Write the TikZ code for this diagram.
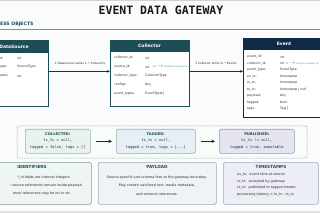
\documentclass[tikz,border=0pt]{standalone}
\usepackage{fontspec}
\setmainfont{DejaVu Sans}
\newfontfamily\monof{DejaVu Sans Mono}
\usetikzlibrary{arrows.meta}
\definecolor{hdr}{HTML}{1E4D57}
\definecolor{navy}{HTML}{0F2B46}
\definecolor{fieldtxt}{HTML}{2B2B2B}
\definecolor{fkc}{HTML}{3D8B94}
\definecolor{greenfill}{HTML}{E7F3EC}
\definecolor{bluefill}{HTML}{E6EEF6}
\definecolor{lavfill}{HTML}{E4E5F1}
\definecolor{idfill}{HTML}{EEF5F2}
\definecolor{payfill}{HTML}{EFF3F8}
\definecolor{tsfill}{HTML}{ECEDF5}
\definecolor{dashcol}{HTML}{8AA5AB}
\definecolor{bgc}{HTML}{FAFBFB}
\begin{document}
\begin{tikzpicture}[x=1pt,y=-1pt,
  objbox/.style={draw=hdr, line width=0.6pt, fill=white, anchor=north west, inner sep=0},
  hdrtxt/.style={text=white, font=\bfseries\fontsize{4.5}{5}\selectfont, inner sep=0},
  fld/.style={anchor=west, font=\fontsize{3.2}{3.8}\selectfont, text=fieldtxt, inner sep=0},
  fk/.style={anchor=west, font=\fontsize{2.4}{3}\selectfont, text=fkc, inner sep=0},
  lbl/.style={font=\fontsize{2.9}{3.5}\selectfont, text=fieldtxt, inner sep=0},
  conn/.style={draw=fieldtxt, line width=0.5pt, -{Stealth[length=3pt,width=2.6pt]}},
  statebox/.style={rounded corners=1.5pt, line width=0.6pt, anchor=north west, inner sep=0},
  sttl/.style={font=\bfseries\fontsize{3.7}{4.2}\selectfont, text=hdr, inner sep=0},
  stxt/.style={font=\monof\fontsize{3.7}{4.2}\selectfont, text=fieldtxt, inner sep=0},
  flow/.style={draw=navy, line width=1pt, -{Stealth[length=3.5pt,width=3.5pt]}, shorten <=5pt, shorten >=4pt},
  notebox/.style={rounded corners=1.5pt, line width=0.6pt, anchor=north west, inner sep=0},
  ntitle/.style={font=\bfseries\fontsize{4.2}{5}\selectfont, text=hdr, inner sep=0},
  ntxt/.style={font=\fontsize{3.4}{4}\selectfont, text=fieldtxt, inner sep=0}
]
\useasboundingbox (0,0) rectangle (320,213);
\fill[bgc] (0,0) rectangle (320,213);
\fill[gray!35] (0,0) rectangle (320,1);
\fill[gray!25] (0,210.5) rectangle (320,213);

% title
\node[font=\monof\bfseries\fontsize{11.5}{12}\selectfont, text=black!90] (title) at (161,10) {EVENT DATA GATEWAY};
\node[anchor=west, font=\bfseries\fontsize{4.6}{5}\selectfont, text=hdr, inner sep=0] (sec) at (0,24.5) {ESS OBJECTS};
\draw[hdr!60, line width=0.8pt] (0,29.5) -- (320,29.5);

% DataSource
\node[objbox, minimum width=68pt, minimum height=66pt] (ds) at (-20,40) {};
\fill[hdr] (ds.north west) rectangle ([yshift=-13pt]ds.north east);
\node[hdrtxt] (dsh) at (14,46.5) {DataSource};
\node[fld] (ds1) at (0,58) {d:};   \node[fld] (ds1t) at (17,58) {int};
\node[fld] (ds2) at (0,67) {ype:}; \node[fld] (ds2t) at (17,67) {SourceType};
\node[fld] (ds3) at (0,76) {ame:}; \node[fld] (ds3t) at (17,76) {str};

% Collector
\node[objbox, minimum width=79pt, minimum height=66pt] (col) at (110,40) {};
\fill[hdr] (col.north west) rectangle ([yshift=-12pt]col.north east);
\node[hdrtxt] (colh) at (149.5,46) {Collector};
\node[fld] (c1) at (114,58) {collector\_id:};   \node[fld] (c1t) at (145,58) {int};
\node[fld] (c2) at (114,67) {source\_id:};      \node[fld] (c2t) at (145,67) {int};
\node[fk] (c2k) at (153,67) {FK $\rightarrow$ DataSource.source\_id};
\node[fld] (c3) at (114,76) {collector\_type:}; \node[fld] (c3t) at (145,76) {CollectorType};
\node[fld] (c4) at (114,85) {configs:};         \node[fld] (c4t) at (145,85) {Any};
\node[fld] (c5) at (114,94) {event\_types:};    \node[fld] (c5t) at (145,94) {EventType[]};

% Event
\node[objbox, draw=navy, minimum width=82pt, minimum height=79pt] (ev) at (243,38) {};
\fill[navy] (ev.north west) rectangle ([yshift=-12pt]ev.north east);
\node[hdrtxt] (evh) at (284,44) {Event};
\node[fld] (e1) at (247,57) {event\_id:};      \node[fld] (e1t) at (280,57) {int};
\node[fld] (e2) at (247,63.5) {collector\_id:}; \node[fld] (e2t) at (280,63.5) {int};
\node[fk, anchor=east, font=\fontsize{2.1}{2.5}\selectfont] (e2k) at (318.5,63.5) {FK $\rightarrow$ Collector.collector\_id};
\node[fld] (e3) at (247,70) {event\_type:};    \node[fld] (e3t) at (280,70) {EventType};
\node[fld] (e4) at (247,76.5) {ev\_ts:};       \node[fld] (e4t) at (280,76.5) {timestamp};
\node[fld] (e5) at (247,83) {rx\_ts:};         \node[fld] (e5t) at (280,83) {timestamp};
\node[fld] (e6) at (247,89.5) {tx\_ts:};       \node[fld] (e6t) at (280,89.5) {timestamp | null};
\node[fld] (e7) at (247,96) {payload:};        \node[fld] (e7t) at (280,96) {Any};
\node[fld] (e8) at (247,102.5) {tagged:};      \node[fld] (e8t) at (280,102.5) {bool};
\node[fld] (e9) at (247,109) {tags:};          \node[fld] (e9t) at (280,109) {Tag[]};

% connectors
\draw[conn] ([yshift=2pt]ds.east) -- ([yshift=2pt]col.west);
\node[lbl] (l1) at (80,63.5) {1 DataSource sends 1..* Collectors};
\draw[conn] ([yshift=2pt]col.east) -- ([yshift=2pt]col.east -| ev.west);
\node[lbl] (l2) at (216,63.5) {1 Collector emits 0..* Events};

% lifecycle
\draw[dashcol, dashed, dash pattern=on 1pt off 0.8pt, line width=0.5pt, rounded corners=2pt] (17,126) rectangle (307,158);
\node[statebox, draw=hdr!45, fill=greenfill, minimum width=65pt, minimum height=24pt] (s1) at (25,129) {};
\node[statebox, draw=navy!40, fill=bluefill, minimum width=79pt, minimum height=24pt] (s2) at (116,129) {};
\node[statebox, draw=navy!45, fill=lavfill, minimum width=75pt, minimum height=24pt] (s3) at (219,129) {};
\node[sttl] at ([yshift=-5.5pt]s1.north) {COLLECTED:};
\node[stxt] at ([yshift=-12pt]s1.north) {tx\_ts = null,};
\node[stxt] at ([yshift=-18.5pt]s1.north) {tagged = false, tags = []};
\node[sttl] at ([yshift=-5.5pt]s2.north) {TAGGED:};
\node[stxt] at ([yshift=-12pt]s2.north) {tx\_ts = null,};
\node[stxt] at ([yshift=-18.5pt]s2.north) {tagged = true, tags = [...]};
\node[sttl] at ([yshift=-5.5pt]s3.north) {PUBLISHED:};
\node[stxt] at ([yshift=-12pt]s3.north) {tx\_ts != null,};
\node[stxt] at ([yshift=-18.5pt]s3.north) {tagged = true, immutable};
\draw[flow] (s1.east) -- (s2.west);
\draw[flow] (s2.east) -- (s3.west);

% notes
\node[notebox, draw=hdr!55, fill=idfill, minimum width=101pt, minimum height=42pt] (n1) at (-10,162) {};
\node[notebox, draw=hdr!45, fill=payfill, minimum width=118pt, minimum height=42pt] (n2) at (98,162) {};
\node[notebox, draw=navy!40, fill=tsfill, minimum width=95pt, minimum height=42pt] (n3) at (223,162) {};
\node[ntitle] (n1t) at (32,167) {IDENTIFIERS};
\node[ntxt, anchor=east] at (71,178) {*\_id fields are internal integers.};
\node[ntxt, anchor=east] at (83,186) {l source references remain inside payload.};
\node[ntxt, anchor=east] at (71,194) {ernal references may be int or str.};
\node[ntitle] (n2t) at (157,167) {PAYLOAD};
\node[ntxt] at (157,178) {Source-specific and schema-free at the gateway boundary.};
\node[ntxt] at (157,186) {May contain sanitized text, media metadata,};
\node[ntxt] at (157,194) {and external references.};
\node[ntitle] (n3t) at (271,167) {TIMESTAMPS};
\node[ntxt, anchor=west] at (237,175) {ev\_ts:\ \ event time at source};
\node[ntxt, anchor=west] at (237,181.5) {rx\_ts:\ \ accepted by gateway};
\node[ntxt, anchor=west] at (237,188) {tx\_ts:\ \ published to tagged stream};
\node[ntxt, anchor=west] at (237,194.5) {processing latency = tx\_ts - rx\_ts};
\end{tikzpicture}
\end{document}
